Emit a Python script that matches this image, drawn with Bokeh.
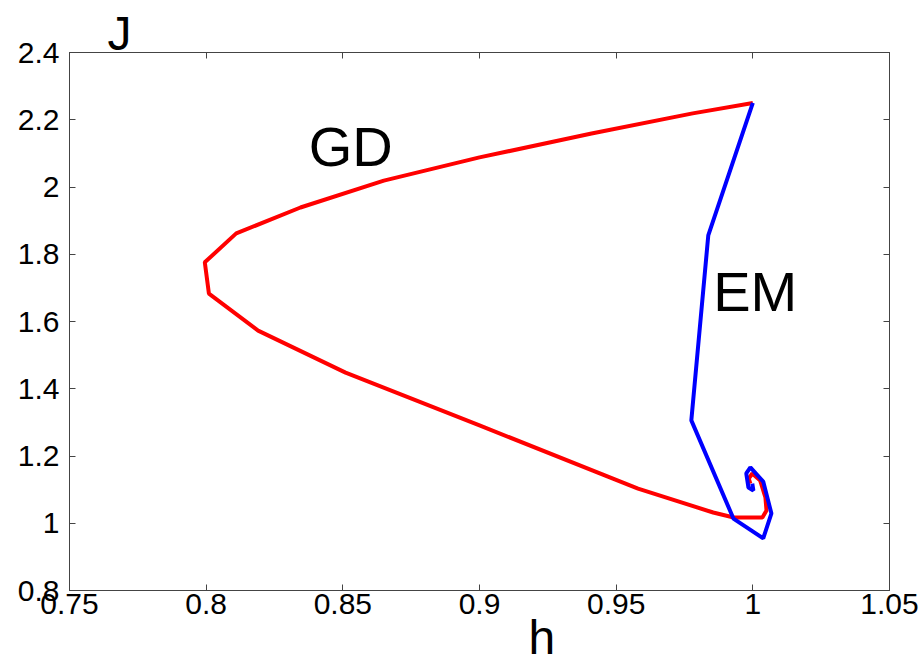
from bokeh.plotting import figure
from bokeh.models import Range1d, FixedTicker, LinearAxis, Label, Title, CustomJSTickFormatter
from bokeh.embed import file_html
from bokeh.resources import INLINE

# ---- data ----
h_ticks = [0.75, 0.8, 0.85, 0.9, 0.95, 1.0, 1.05]
J_ticks = [0.8, 1.0, 1.2, 1.4, 1.6, 1.8, 2.0, 2.2, 2.4]

gd_h = [1.0, 0.978, 0.941, 0.900, 0.865, 0.8345, 0.811, 0.7995, 0.801, 0.819,
        0.851, 0.900, 0.958, 0.9855, 0.993, 1.0035, 1.005, 1.0046, 1.0027,
        0.9998, 0.9985, 0.9991]
gd_J = [2.25, 2.219, 2.159, 2.088, 2.019, 1.939, 1.862, 1.776, 1.683, 1.573,
        1.448, 1.291, 1.103, 1.032, 1.017, 1.017, 1.038, 1.077, 1.127,
        1.148, 1.133, 1.118]

em_h = [1.0, 0.9837, 0.9775, 0.9929, 1.0038, 1.0068, 1.0038, 0.9991, 0.9976,
        0.9984, 1.0002, 0.9998]
em_J = [2.25, 1.856, 1.306, 1.014, 0.955, 1.029, 1.124, 1.166, 1.148,
        1.106, 1.097, 1.118]

FONT = "Liberation Sans"
AXC = "#444444"

p = figure(frame_width=820, frame_height=538,
           x_range=Range1d(0.75, 1.05), y_range=Range1d(0.8, 2.4),
           output_backend="svg", toolbar_location=None,
           min_border_left=69, min_border_top=52,
           min_border_right=34, min_border_bottom=72,
           x_axis_location=None, y_axis_location=None)
p.xgrid.visible = False
p.ygrid.visible = False
p.outline_line_color = AXC
p.outline_line_width = 1
p.background_fill_color = "white"
p.border_fill_color = "white"

fmt_code = "return (Math.round(tick*100)/100).toString();"

def make_axis(ticks, show_labels, standoff):
    ax = LinearAxis(ticker=FixedTicker(ticks=ticks),
                    formatter=CustomJSTickFormatter(code=fmt_code))
    ax.major_tick_in = 6
    ax.major_tick_out = 0
    ax.minor_tick_line_color = None
    ax.axis_line_color = AXC
    ax.major_tick_line_color = AXC
    ax.major_label_standoff = standoff
    ax.major_label_text_font = FONT
    ax.major_label_text_color = "black"
    ax.major_label_text_font_size = "30px" if show_labels else "0px"
    if not show_labels:
        ax.major_label_text_alpha = 0
    return ax

p.add_layout(make_axis(h_ticks, True, 3), "below")
p.add_layout(make_axis(J_ticks, True, 10), "left")
p.add_layout(make_axis(h_ticks, False, 0), "above")
p.add_layout(make_axis(J_ticks, False, 0), "right")

p.add_layout(Title(text="J", align="left", offset=38, text_font=FONT,
                   text_font_size="48px", text_font_style="normal",
                   text_color="black", standoff=-14), "above")
p.add_layout(Title(text="h", align="left", offset=459, text_font=FONT,
                   text_font_size="48px", text_font_style="normal",
                   text_color="black", standoff=-16), "below")

p.line(gd_h, gd_J, line_color="#ff0000", line_width=4)
p.line(em_h, em_J, line_color="#0000ff", line_width=4)

def lab(x, y, t, size):
    p.add_layout(Label(x=x, y=y, text=t, text_font=FONT, text_font_size=size,
                       text_color="black", text_align="left",
                       text_baseline="alphabetic"))

lab(0.8375, 2.12, "GD", "56px")
lab(0.9855, 1.69, "EM", "56px")

open("out.html", "w").write(file_html(p, INLINE))
